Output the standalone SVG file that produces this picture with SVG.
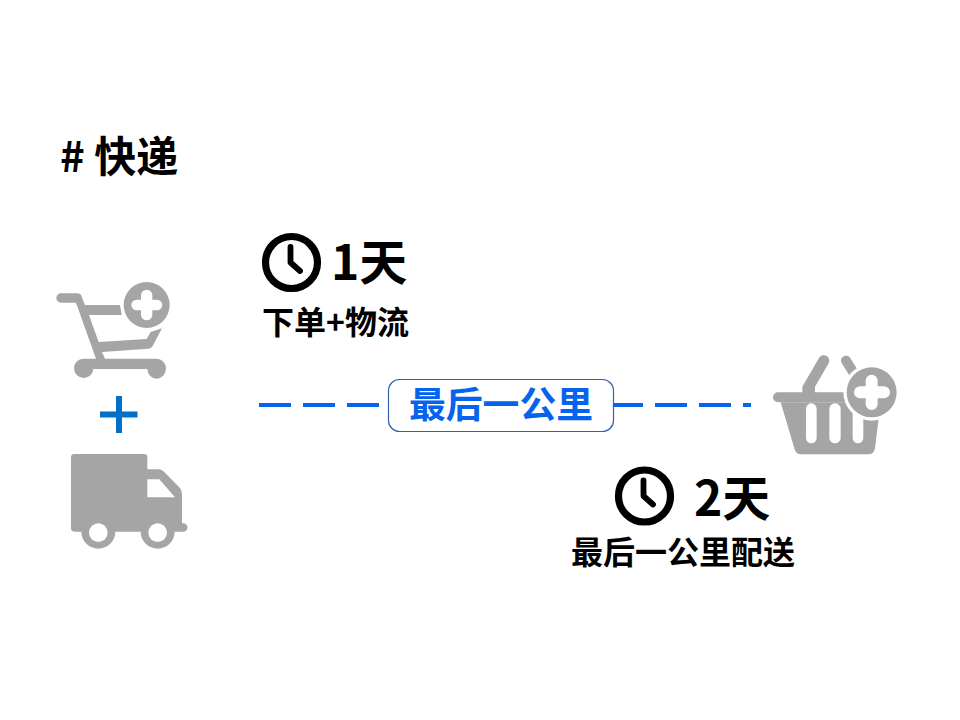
<svg xmlns="http://www.w3.org/2000/svg" width="960" height="720" viewBox="0 0 960 720">
<style>
text{font-family:"Noto Sans CJK SC","Noto Sans",sans-serif;font-weight:700;fill:#000}
.ic{fill:#a5a5a5}
.wh{fill:#fff}
.clk{fill:none;stroke:#000}
</style>
<defs>
<g id="clock">
<circle class="clk" r="26" stroke-width="7.200"/>
<path class="clk" d="M-1,-15.500V0L8.500,8.500" stroke-width="5.800" stroke-linecap="round" stroke-linejoin="round"/>
</g>
</defs>
<rect width="960" height="720" fill="#fff"/>
<g id="title"><text x="60" y="172" font-size="42"># 快递</text></g>
<g id="cart" transform="translate(40,270) scale(.3333)">
<path class="ic" d="M63,70H112Q122,70 125,80L135,105H240L245,135H147L176,216L320,207L332,186L366,175L338,228Q334,236 325,236L186,246L195,266H350A28,30 0 1 1 322,297H160A29,29 0 1 1 130,266H168L108,98H63A14,14 0 0 1 63,70Z"/>
<circle class="ic" cx="320" cy="105" r="69"/>
<path class="wh" d="M303,76A17,17 0 0 1 337,76V89H351A16,16 0 0 1 351,121H337V134A17,17 0 0 1 303,134V121H290A16,16 0 0 1 290,89H303Z"/>
</g>
<g id="plus"><path d="M119,396V433M100,414.500H137.500" fill="none" stroke="#0070c9" stroke-width="6"/></g>
<g id="truck" transform="translate(40,270) scale(.3333)">
<path class="ic" d="M103,552H312Q322,552 322,562V598H355Q365,598 372,605L418,652Q426,660 426,672V760H430A12,12 0 0 1 430,785H404A51,51 0 0 1 302,785H226A51,51 0 0 1 124,785H103Q93,785 93,775V562Q93,552 103,552Z"/>
<path class="wh" d="M322,628H358L405,682H322Z"/>
<circle class="wh" cx="175" cy="788" r="28"/>
<circle class="wh" cx="353" cy="788" r="28"/>
</g>
<g id="connectors"><path d="M259,405H751" fill="none" stroke="#0563ee" stroke-width="4" stroke-dasharray="32 12"/></g>
<g id="label-last-mile">
<rect x="388.500" y="379.500" width="225" height="52" rx="11" fill="#fff" stroke="#2f65a8" stroke-width="1.200"/>
<text x="501" y="418" font-size="36.800" text-anchor="middle" style="fill:#0563ee">最后一公里</text>
</g>
<g id="basket" transform="translate(750,340) scale(.3333)">
<path class="ic" d="M84,157H290V187H84A15,15 0 0 1 84,157Z"/>
<path class="ic" d="M92,187H392L375,325Q372,343 355,343H152Q137,343 133,325Z"/>
<path class="ic" d="M157,140L207,54A16,16 0 0 1 236,70L195,140V160H157Z"/>
<path d="M288,62L312,100" fill="none" stroke="#a5a5a5" stroke-width="30" stroke-linecap="round"/>
<rect class="wh" x="168" y="190" width="32" height="120" rx="16"/>
<rect class="wh" x="238" y="190" width="34" height="120" rx="17"/>
<rect class="wh" x="308" y="190" width="32" height="120" rx="16"/>
<circle class="wh" cx="365" cy="157" r="85"/>
<circle class="ic" cx="365" cy="157" r="75"/>
<path class="wh" d="M347,122A18,18 0 0 1 383,122V139H402A18,18 0 0 1 402,175H383V192A18,18 0 0 1 347,192V175H330A18,18 0 0 1 330,139H347Z"/>
</g>
<g id="time-1">
<use href="#clock" x="291.500" y="262.500"/>
<text x="331" y="280" font-size="48">1天</text>
<text x="262" y="334" font-size="32">下单+物流</text>
</g>
<g id="time-2">
<use href="#clock" x="644.500" y="496"/>
<text x="694" y="516" font-size="48">2天</text>
<text x="571" y="564" font-size="32">最后一公里配送</text>
</g>
</svg>
